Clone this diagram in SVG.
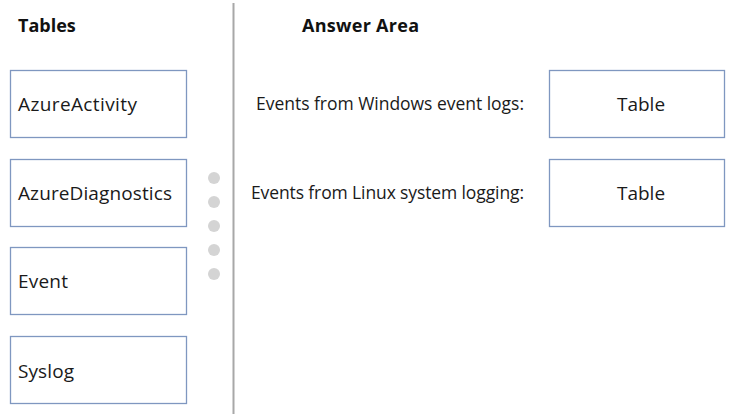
<svg xmlns="http://www.w3.org/2000/svg" width="736" height="419" viewBox="0 0 736 419">
<style>
.box{fill:#fff;stroke:#7f97c0;stroke-width:1.3}
.t{font-family:"Open Sans","Noto Sans","Liberation Sans",sans-serif;font-size:19px;fill:#1a1a1a}
.l{font-family:"Open Sans","Noto Sans","Liberation Sans",sans-serif;font-size:17.5px;fill:#1a1a1a}
.h{font-family:"Open Sans","Noto Sans","Liberation Sans",sans-serif;font-size:18px;font-weight:bold;fill:#111}
.dot{fill:#d4d4d4}
</style>
<rect width="736" height="419" fill="#fff"/>
<text class="h" x="18" y="32">Tables</text>
<text class="h" x="302" y="32" textLength="117">Answer Area</text>
<line x1="233.5" y1="3" x2="233.5" y2="414" stroke="#a8a8a8" stroke-width="2"/>
<g id="azureactivity"><rect class="box" x="10.5" y="70.5" width="176" height="67"/><text class="t" x="18" y="111" textLength="119">AzureActivity</text></g>
<g id="azurediagnostics"><rect class="box" x="10.5" y="159.5" width="176" height="67"/><text class="t" x="18" y="200" textLength="154">AzureDiagnostics</text></g>
<g id="event"><rect class="box" x="10.5" y="247.5" width="176" height="67"/><text class="t" x="18" y="288" textLength="50">Event</text></g>
<g id="syslog"><rect class="box" x="10.5" y="336.5" width="176" height="67"/><text class="t" x="18" y="378" textLength="56">Syslog</text></g>
<g id="dots">
<circle class="dot" cx="214" cy="178" r="6"/>
<circle class="dot" cx="214" cy="202" r="6"/>
<circle class="dot" cx="214" cy="226" r="6"/>
<circle class="dot" cx="214" cy="250" r="6"/>
<circle class="dot" cx="214" cy="274" r="6"/>
</g>
<g id="windows"><text class="l" x="256" y="110" textLength="268">Events from Windows event logs:</text></g>
<g id="linux"><text class="l" x="251" y="199" textLength="273">Events from Linux system logging:</text></g>
<g id="answer1"><rect class="box" x="549.5" y="70.5" width="175" height="67"/><text class="t" x="641" y="111" text-anchor="middle">Table</text></g>
<g id="answer2"><rect class="box" x="549.5" y="159.5" width="175" height="67"/><text class="t" x="641" y="200" text-anchor="middle">Table</text></g>
<g id="connectors"/>
</svg>
